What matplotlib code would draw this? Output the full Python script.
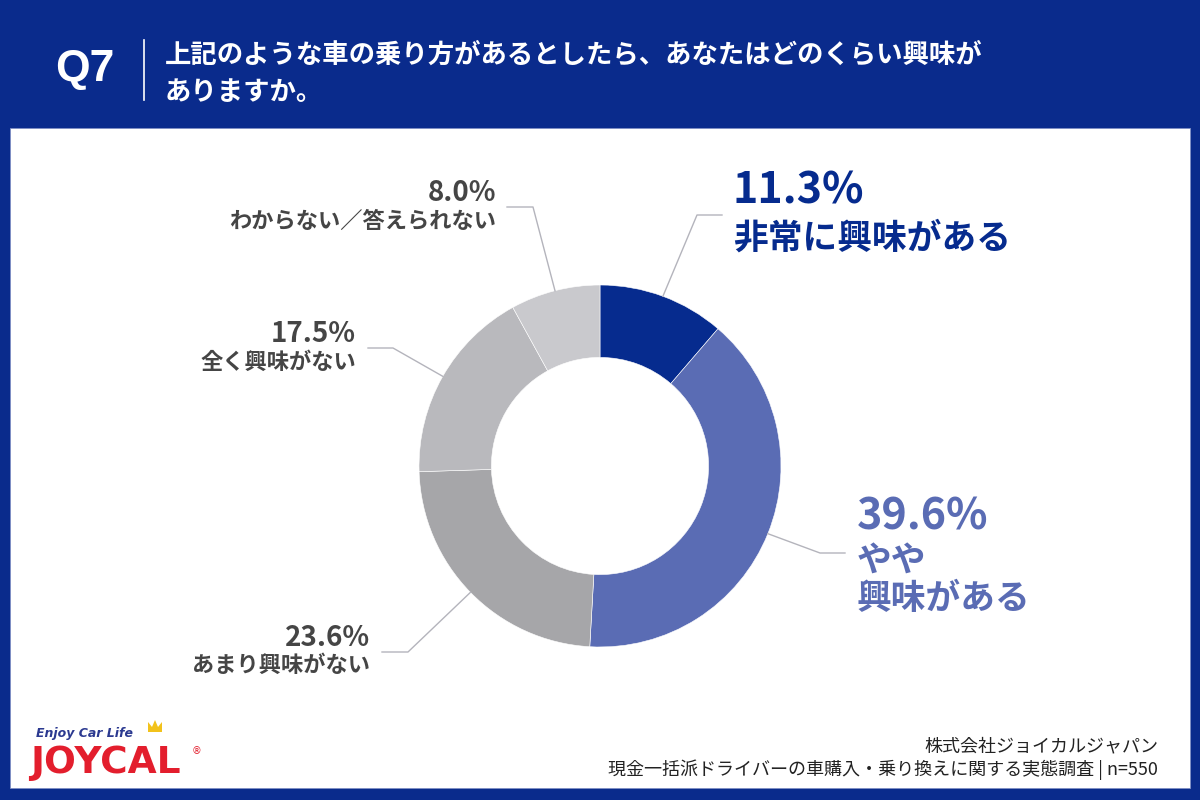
import numpy as np
import matplotlib.pyplot as plt
from matplotlib.patches import Rectangle, Polygon

plt.rcParams['font.family'] = ['Noto Sans CJK JP', 'DejaVu Sans']

# Data
categories = ['非常に興味がある', 'やや\n興味がある', 'あまり興味がない', '全く興味がない', 'わからない／答えられない']
values = [11.3, 39.6, 23.6, 17.5, 8.0]
colors = ['#062B8E', '#5A6CB4', '#A6A6A9', '#B9B9BD', '#C9C9CD']
label_colors = ['#062B8E', '#5A6CB4', '#454545', '#454545', '#454545']

question = 'Q7'
title_lines = ['上記のような車の乗り方があるとしたら、あなたはどのくらい興味が', 'ありますか。']
source_lines = ['株式会社ジョイカルジャパン', '現金一括派ドライバーの車購入・乗り換えに関する実態調査 | n=550']

W, H = 1200, 800
NAVY = '#0A2B8C'


def Y(y):
    # picture coordinates (top = 0) -> axes coordinates
    return H - y


fig = plt.figure(figsize=(12, 8), dpi=100)
fig.patch.set_facecolor(NAVY)
ax = fig.add_axes([0, 0, 1, 1])

# white panel
ax.add_patch(Rectangle((10, Y(788)), 1180, 660, facecolor='white', edgecolor='#7F8FC4', lw=0.6, zorder=0))

# header
ax.text(55, Y(70), question, color='white', fontsize=32, fontweight='bold',
        family=['Liberation Sans', 'DejaVu Sans'], ha='left', va='center')
ax.plot([144, 144], [Y(40), Y(100)], color='white', lw=1.2)
for i, line in enumerate(title_lines):
    ax.text(165, Y(55 + i * 38), line, color='white', fontsize=19, fontweight='bold',
            ha='left', va='center')

# donut
cx, cy, R = 600, 466, 181
wedges, _ = ax.pie(values, colors=colors, startangle=90, counterclock=False,
                   center=(cx, Y(cy)), radius=R, frame=True,
                   wedgeprops=dict(width=R * 0.4, edgecolor='white', linewidth=0.4))

# label layout: elbow, end of leader line, text x, alignment, pct y, name y, sizes
layout = [
    ((697, 215), (722, 215), 733, 'left', 191, 238, 31, 25),
    ((820, 553), (845, 553), 857, 'left', 517, 560, 31, 25),
    ((408, 652), (382, 652), 370, 'right', 638, 665, 20, 16),
    ((393, 348), (368, 348), 356, 'right', 334, 362, 20, 16),
    ((533, 207), (507, 207), 496, 'right', 193, 221, 20, 16),
]

cum = np.cumsum([0] + values[:-1])
for i, (v, name) in enumerate(zip(values, categories)):
    mid = np.deg2rad(90 - (cum[i] + v / 2) * 360 / sum(values))
    sx, sy = cx + R * np.cos(mid), Y(cy) + R * np.sin(mid)
    (ex, ey), (tx, ty), x, ha, py, ny, ps, ns = layout[i]
    ax.plot([sx, ex, tx], [sy, Y(ey), Y(ty)], color='#B4B4BC', lw=1, zorder=1)
    ax.text(x, Y(py), f'{v:.1f}%', color=label_colors[i], fontsize=ps,
            fontweight='bold', ha=ha, va='center')
    for j, part in enumerate(name.split('\n')):
        ax.text(x, Y(ny + j * 38), part, color=label_colors[i], fontsize=ns,
                fontweight='bold', ha=ha, va='center')

# footer
for i, line in enumerate(source_lines):
    ax.text(1158, Y(746 + i * 24), line, color='#222222', fontsize=13,
            ha='right', va='center')

# logo
ax.text(36, Y(734), 'Enjoy Car Life', color='#2B3990', fontsize=9, fontweight='bold',
        style='italic', family='DejaVu Sans', ha='left', va='center')
ax.text(30, Y(763), 'JOYCAL', color='#E31E2D', fontsize=27, fontweight='bold',
        family='DejaVu Sans', ha='left', va='center')
ax.text(192, Y(751), '®', color='#E31E2D', fontsize=7, family='DejaVu Sans',
        ha='left', va='center')
ax.add_patch(Polygon([(148, Y(732)), (148, Y(722)), (152, Y(727)), (155, Y(720)),
                      (158, Y(727)), (162, Y(722)), (162, Y(732))],
                     closed=True, facecolor='#F2C21B', edgecolor='none'))

ax.set_xlim(0, W)
ax.set_ylim(0, H)
ax.set_aspect('auto')
ax.axis('off')

fig.savefig('out.png', dpi=100, facecolor=fig.get_facecolor())
